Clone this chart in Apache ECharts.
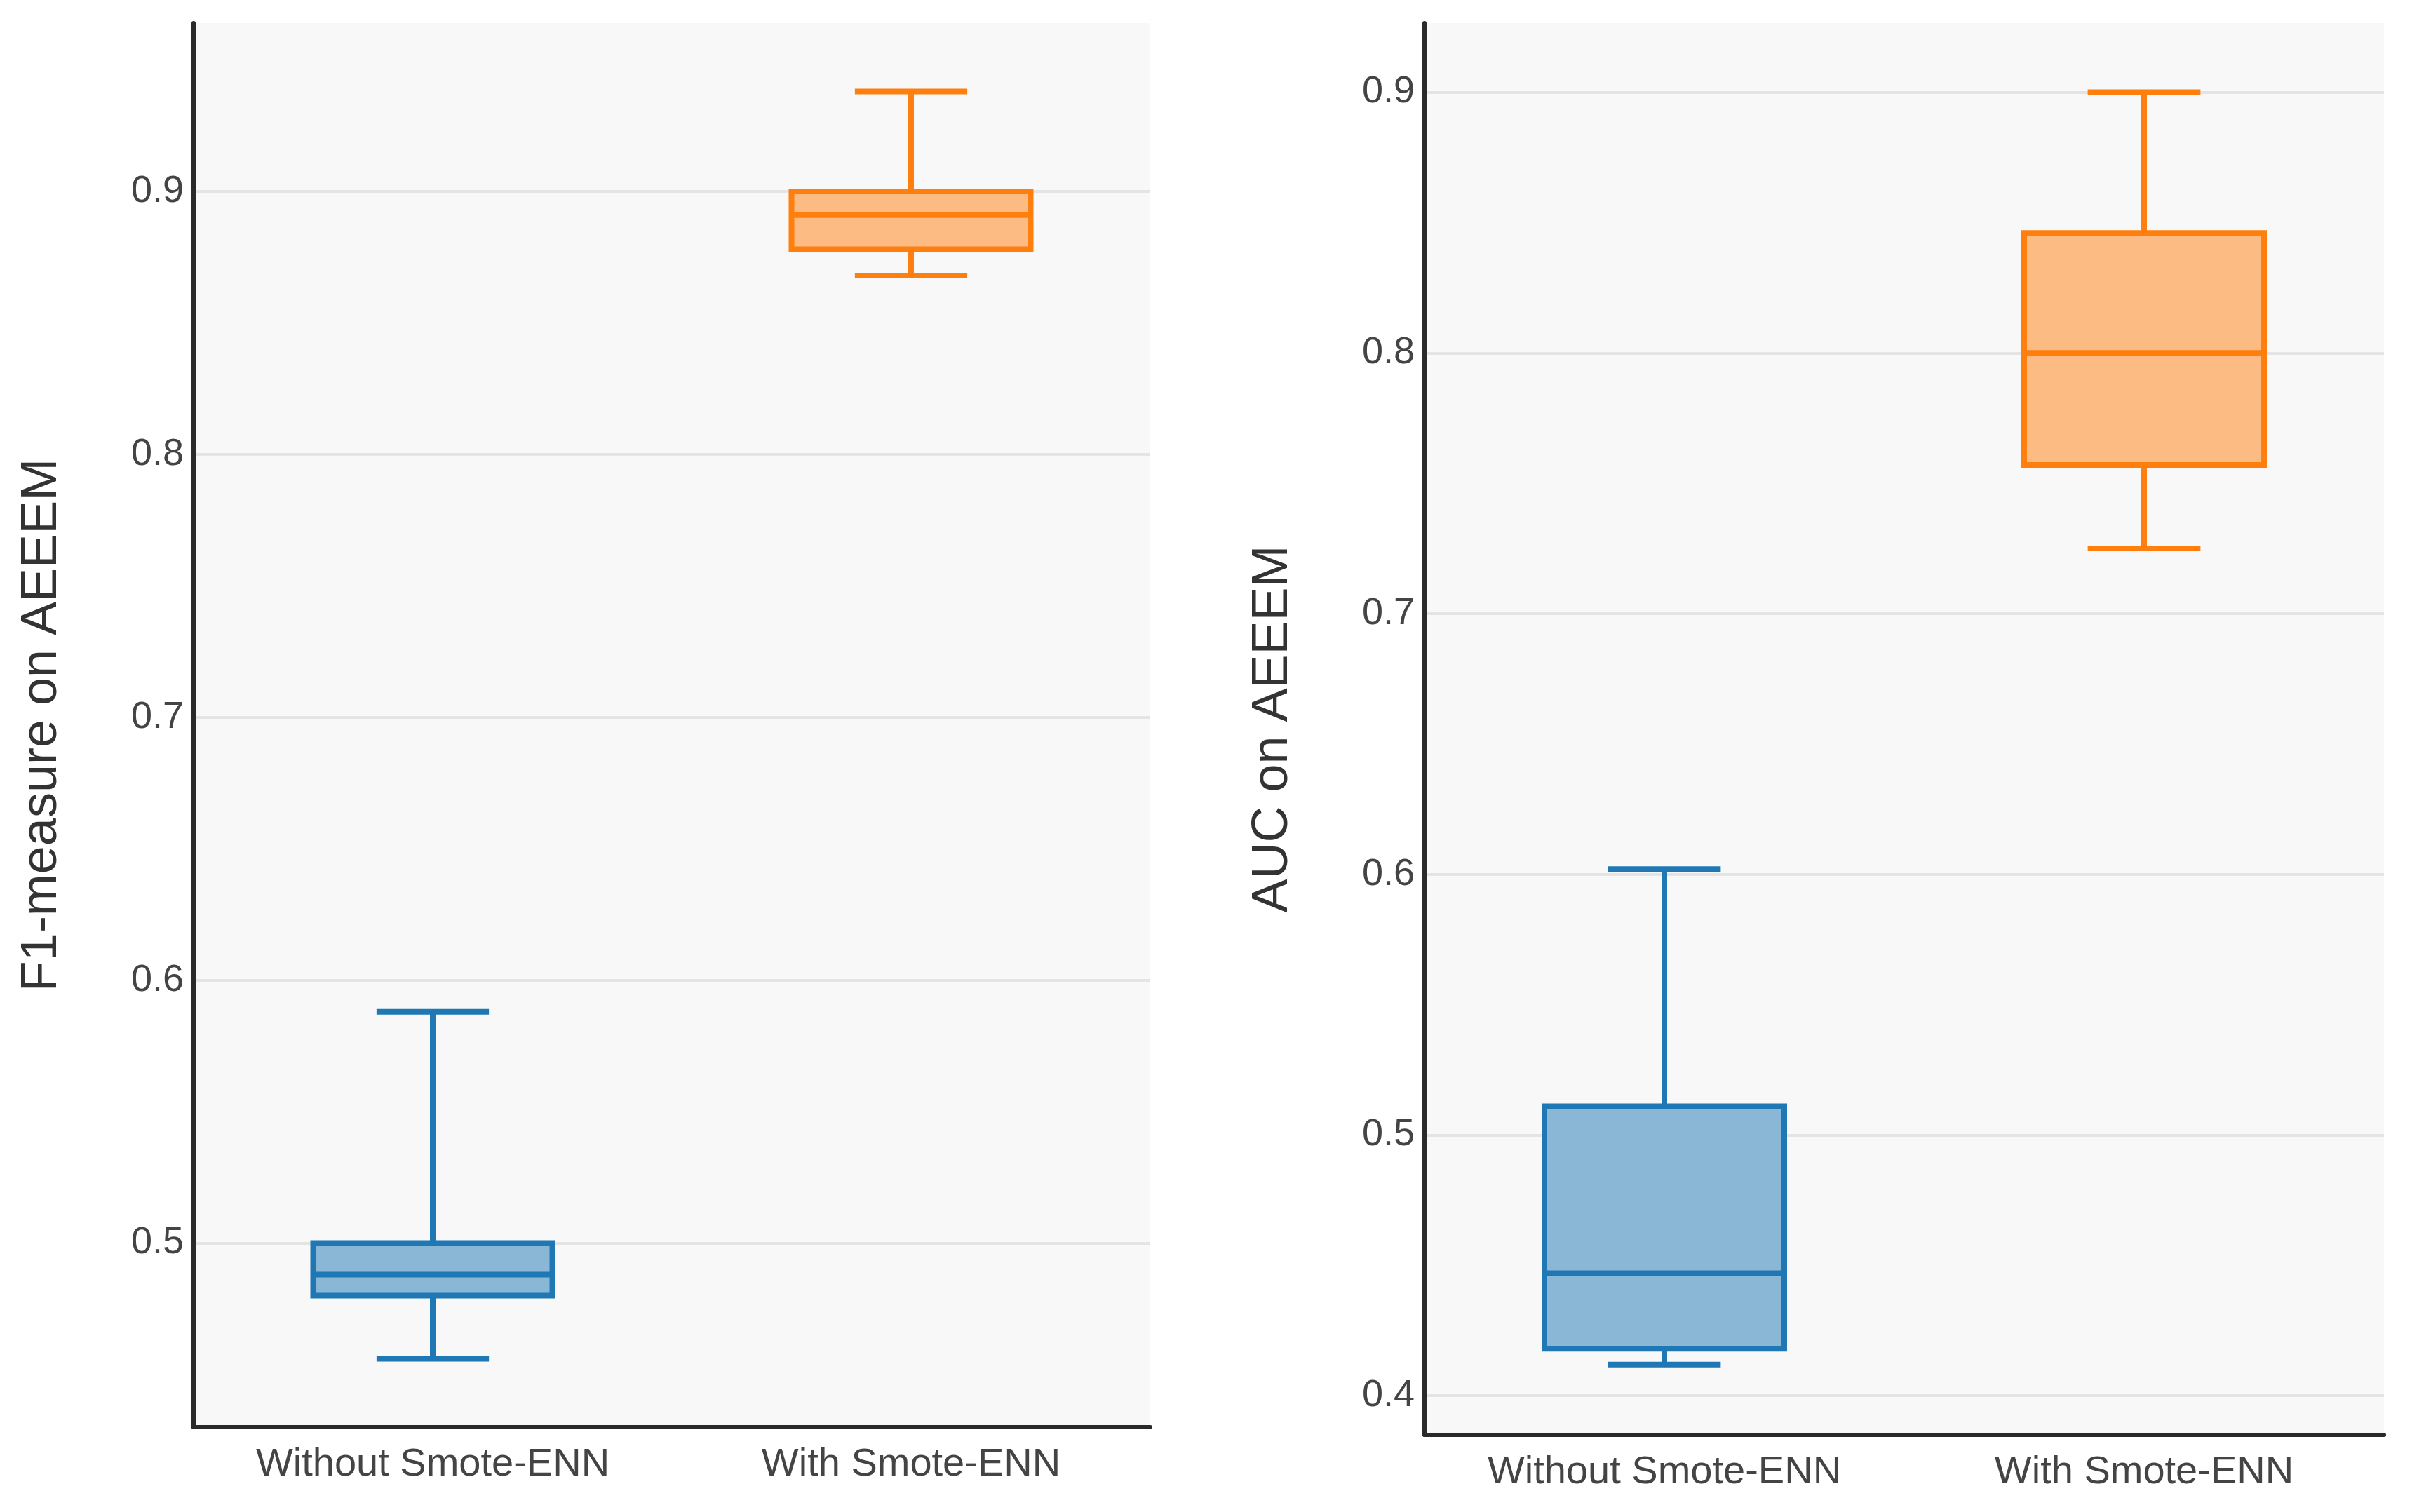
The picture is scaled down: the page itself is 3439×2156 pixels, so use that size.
<!DOCTYPE html>
<html>
<head>
<meta charset="utf-8">
<script src="https://cdn.jsdelivr.net/npm/echarts@6/dist/echarts.min.js"></script>
<style>
  html, body { margin: 0; padding: 0; background: #ffffff; }
  #chart { width: 3439px; height: 2156px; }
</style>
</head>
<body>
<div id="chart"></div>
<script>
// ---- data ----
const categories = ['Without Smote-ENN', 'With Smote-ENN'];

const f1Min    = [0.456, 0.868];
const f1Q1     = [0.480, 0.878];
const f1Median = [0.488, 0.891];
const f1Q3     = [0.500, 0.900];
const f1Max    = [0.588, 0.938];

const aucMin    = [0.412, 0.725];
const aucQ1     = [0.418, 0.757];
const aucMedian = [0.447, 0.800];
const aucQ3     = [0.511, 0.846];
const aucMax    = [0.602, 0.900];

const f1Ticks  = [0.5, 0.6, 0.7, 0.8, 0.9];
const aucTicks = [0.4, 0.5, 0.6, 0.7, 0.8, 0.9];

const f1Title  = 'F1-measure on AEEEM';
const aucTitle = 'AUC on AEEEM';

// ---- styling ----
const strokeColors = ['#1f77b4', '#ff7f0e'];
const fillColors   = ['#8bb7d6', '#fbbb83'];
const FONT = '"Liberation Sans", Arial, sans-serif';

function rows(mn, q1, md, q3, mx) {
  return categories.map((c, i) => [i, mn[i], q1[i], md[i], q3[i], mx[i]]);
}

function renderBox(params, api) {
  const x = api.value(0);
  const lo  = api.coord([x, api.value(1)]);
  const q1  = api.coord([x, api.value(2)]);
  const med = api.coord([x, api.value(3)]);
  const q3  = api.coord([x, api.value(4)]);
  const hi  = api.coord([x, api.value(5)]);
  const band = api.size([1, 0])[0];
  const bw = band * 0.5;
  const cw = band * 0.235;
  const cx = lo[0];
  const i = params.dataIndex;
  const stroke = strokeColors[i];
  const lw = 8;
  const ls = { stroke: stroke, lineWidth: lw, fill: null };
  return {
    type: 'group',
    children: [
      { type: 'line', shape: { x1: cx, y1: q3[1], x2: cx, y2: hi[1] }, style: ls },
      { type: 'line', shape: { x1: cx, y1: q1[1], x2: cx, y2: lo[1] }, style: ls },
      { type: 'line', shape: { x1: cx - cw / 2, y1: hi[1], x2: cx + cw / 2, y2: hi[1] }, style: ls },
      { type: 'line', shape: { x1: cx - cw / 2, y1: lo[1], x2: cx + cw / 2, y2: lo[1] }, style: ls },
      { type: 'rect', shape: { x: cx - bw / 2, y: q3[1], width: bw, height: q1[1] - q3[1] },
        style: { fill: fillColors[i], stroke: stroke, lineWidth: lw } },
      { type: 'line', shape: { x1: cx - bw / 2, y1: med[1], x2: cx + bw / 2, y2: med[1] }, style: ls }
    ]
  };
}

function xAxis(gridIndex) {
  return {
    type: 'category',
    gridIndex: gridIndex,
    data: categories,
    boundaryGap: true,
    axisTick: { show: false },
    axisLine: { show: true, lineStyle: { color: '#2a2a2a', width: 6 } },
    axisLabel: { color: '#444444', fontSize: 56, fontFamily: FONT, margin: 26 },
    splitLine: { show: false }
  };
}

function yAxis(gridIndex, min, max, ticks, title) {
  return {
    type: 'value',
    gridIndex: gridIndex,
    min: min,
    max: max,
    name: title,
    nameLocation: 'middle',
    nameGap: 180,
    nameTextStyle: { color: '#333333', fontSize: 72, fontFamily: FONT },
    axisLine: { show: true, lineStyle: { color: '#2a2a2a', width: 6 } },
    axisTick: { show: false, customValues: ticks },
    axisLabel: { customValues: ticks, color: '#444444', fontSize: 54, fontFamily: FONT, margin: 14,
                 formatter: v => String(Math.round(v * 10) / 10) },
    splitLine: { show: true, lineStyle: { color: '#e4e4e4', width: 4 } }
  };
}

const chart = echarts.init(document.getElementById('chart'), null, { renderer: 'canvas' });
chart.setOption({
  backgroundColor: '#ffffff',
  animation: false,
  grid: [
    { left: 276, top: 33, width: 1364, height: 2002, show: true, backgroundColor: '#f8f8f8', borderWidth: 0, containLabel: false },
    { left: 2031, top: 33, width: 1368, height: 2013, show: true, backgroundColor: '#f8f8f8', borderWidth: 0, containLabel: false }
  ],
  xAxis: [xAxis(0), xAxis(1)],
  yAxis: [
    yAxis(0, 0.43, 0.964, f1Ticks, f1Title),
    yAxis(1, 0.385, 0.9265, aucTicks, aucTitle)
  ],
  series: [
    { type: 'custom', xAxisIndex: 0, yAxisIndex: 0, renderItem: renderBox,
      encode: { x: 0, y: [1, 2, 3, 4, 5] }, data: rows(f1Min, f1Q1, f1Median, f1Q3, f1Max), z: 5 },
    { type: 'custom', xAxisIndex: 1, yAxisIndex: 1, renderItem: renderBox,
      encode: { x: 0, y: [1, 2, 3, 4, 5] }, data: rows(aucMin, aucQ1, aucMedian, aucQ3, aucMax), z: 5 }
  ]
});
</script>
</body>
</html>
